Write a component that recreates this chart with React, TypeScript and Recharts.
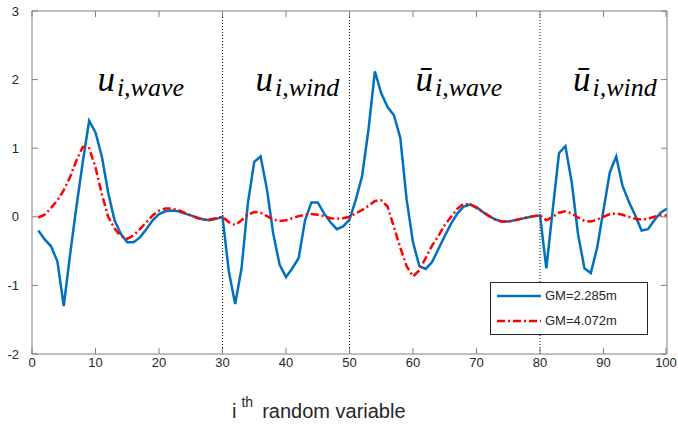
import React from "react";
import {
  LineChart,
  Line,
  XAxis,
  YAxis,
  ReferenceLine,
  ReferenceDot,
  Legend,
} from "recharts";

// random variable index
const idx = [
  1, 2, 3, 4, 5, 6, 7, 8, 9, 10, 11, 12, 13, 14, 15, 16, 17, 18, 19, 20,
  21, 22, 23, 24, 25, 26, 27, 28, 29, 30, 31, 32, 33, 34, 35, 36, 37, 38, 39, 40,
  41, 42, 43, 44, 45, 46, 47, 48, 49, 50, 51, 52, 53, 54, 55, 56, 57, 58, 59, 60,
  61, 62, 63, 64, 65, 66, 67, 68, 69, 70, 71, 72, 73, 74, 75, 76, 77, 78, 79, 80,
  81, 82, 83, 84, 85, 86, 87, 88, 89, 90, 91, 92, 93, 94, 95, 96, 97, 98, 99, 100,
];

// GM=2.285m
const gmLow = [
  -0.2, -0.33, -0.43, -0.65, -1.3, -0.55, 0.15, 0.8, 1.4, 1.23,
  0.88, 0.35, -0.05, -0.25, -0.37, -0.37, -0.3, -0.18, -0.05, 0.04,
  0.08, 0.09, 0.08, 0.05, 0.02, -0.01, -0.04, -0.05, -0.03, 0.0,
  -0.8, -1.27, -0.75, 0.2, 0.8, 0.88, 0.4, -0.25, -0.7, -0.88,
  -0.75, -0.6, -0.05, 0.21, 0.21, 0.05, -0.08, -0.18, -0.14, -0.04,
  0.25, 0.6, 1.28, 2.12, 1.8, 1.6, 1.48, 1.15, 0.25, -0.37,
  -0.72, -0.76, -0.66, -0.47, -0.28, -0.1, 0.05, 0.15, 0.18, 0.14,
  0.07, 0.01, -0.04, -0.07, -0.07, -0.05, -0.03, -0.01, 0.01, 0.02,
  -0.75, 0.1, 0.93, 1.03, 0.5, -0.26, -0.75, -0.82, -0.45, 0.1,
  0.65, 0.88, 0.45, 0.22, 0.02, -0.2, -0.18, -0.05, 0.06, 0.12,
];

// GM=4.072m
const gmHigh = [
  -0.01, 0.03, 0.13, 0.24, 0.39, 0.58, 0.82, 1.02, 1.0, 0.72,
  0.33, 0.0, -0.17, -0.28, -0.32, -0.27, -0.18, -0.08, 0.02, 0.09,
  0.12, 0.12, 0.1, 0.06, 0.02, -0.02, -0.04, -0.04, -0.02, 0.0,
  -0.08, -0.12, -0.05, 0.03, 0.07, 0.06, 0.01, -0.04, -0.06, -0.05,
  -0.02, 0.01, 0.03, 0.04, 0.03, 0.01, -0.02, -0.03, -0.02, 0.0,
  0.05, 0.1, 0.16, 0.23, 0.24, 0.15, -0.15, -0.45, -0.72, -0.87,
  -0.78, -0.6, -0.42, -0.28, -0.12, 0.0, 0.12, 0.19, 0.18, 0.13,
  0.07, 0.01, -0.04, -0.07, -0.07, -0.05, -0.03, -0.01, 0.01, 0.02,
  -0.05, 0.0, 0.06, 0.08, 0.05, -0.01, -0.06, -0.07, -0.04, 0.0,
  0.04, 0.05, 0.03, 0.0, -0.03, -0.04, -0.03, 0.0, 0.02, 0.02,
];

const xTicks = [0, 10, 20, 30, 40, 50, 60, 70, 80, 90, 100];
const yTicks = [-2, -1, 0, 1, 2, 3];
const dividers = [30, 50, 80];

const sections = [
  { x: 10.3, y: 1.83, bar: false, sub: "i,wave" },
  { x: 35.2, y: 1.83, bar: false, sub: "i,wind" },
  { x: 60.4, y: 1.83, bar: true, sub: "i,wave" },
  { x: 85.2, y: 1.83, bar: true, sub: "i,wind" },
];

const series = [
  { key: "low", name: "GM=2.285m", color: "#0072BD", dash: undefined },
  { key: "high", name: "GM=4.072m", color: "#FF0000", dash: "8 3 2 3" },
];

const data = idx.map((i, k) => ({ i, low: gmLow[k], high: gmHigh[k] }));

const AXIS = "#808080";
const TXT = "#262626";
const FONT = "'Liberation Sans', Arial, Helvetica, sans-serif";

const BottomTick = (p: any) => (
  <g>
    <line x1={p.x} y1={p.y} x2={p.x} y2={p.y - 6} stroke={AXIS} />
    <text x={p.x} y={p.y + 13} textAnchor="middle" fontSize={13} fill={TXT} fontFamily={FONT}>
      {p.payload.value}
    </text>
  </g>
);
const TopTick = (p: any) => (
  <line x1={p.x} y1={p.y} x2={p.x} y2={p.y + 6} stroke={AXIS} />
);
const LeftTick = (p: any) => (
  <g>
    <line x1={p.x} y1={p.y} x2={p.x + 6} y2={p.y} stroke={AXIS} />
    <text x={p.x - 13} y={p.y + 4.5} textAnchor="end" fontSize={13} fill={TXT} fontFamily={FONT}>
      {p.payload.value}
    </text>
  </g>
);
const RightTick = (p: any) => (
  <line x1={p.x} y1={p.y} x2={p.x - 6} y2={p.y} stroke={AXIS} />
);

const XTitle = (p: any) => {
  const vb = p.viewBox;
  return (
    <text x={vb.x + 200} y={vb.y + 64} fontSize={20} fill={TXT} fontFamily={FONT}>
      <tspan>i</tspan>
      <tspan dx={5} dy={-11} fontSize={14}>th</tspan>
      <tspan dx={9} dy={11}>random variable</tspan>
    </text>
  );
};

const SectionLabel = (s: (typeof sections)[number]) => (p: any) => (
  <text
    x={p.cx}
    y={p.cy}
    fontFamily="'Liberation Serif', 'Times New Roman', serif"
    fontStyle="italic"
    fill="#000"
  >
    <tspan fontSize={35}>{s.bar ? "\u016B" : "u"}</tspan>
    <tspan fontSize={26} dx={2} dy={5}>{s.sub}</tspan>
  </text>
);

const LegendBox = () => (
  <div
    style={{
      width: 158,
      height: 53,
      boxSizing: "border-box",
      border: `1px solid ${TXT}`,
      background: "#fff",
    }}
  >
    {series.map((s) => (
      <div key={s.key} style={{ display: "flex", alignItems: "center", height: 25, textAlign: "left" }}>
        <svg width={54} height={10}>
          <line
            x1={6}
            y1={5}
            x2={50}
            y2={5}
            stroke={s.color}
            strokeWidth={2.5}
            strokeDasharray={s.dash}
          />
        </svg>
        <span style={{ fontFamily: FONT, fontSize: 13, color: TXT }}>{s.name}</span>
      </div>
    ))}
  </div>
);

export default function App() {
  return (
    <div style={{ position: "absolute", left: 0, top: 0, background: "#fff" }}>
      <LineChart
        width={678}
        height={424}
        data={data}
        margin={{ top: 10, right: 10, left: 0, bottom: 0 }}
      >
        <XAxis
          dataKey="i"
          type="number"
          domain={[0, 100]}
          ticks={xTicks}
          height={70}
          tickSize={0}
          tickMargin={0}
          tick={BottomTick}
          axisLine={{ stroke: AXIS }}
          tickLine={false}
          label={{ content: XTitle }}
        />
        <XAxis
          xAxisId="top"
          orientation="top"
          dataKey="i"
          type="number"
          domain={[0, 100]}
          ticks={xTicks}
          height={1}
          tickSize={0}
          tickMargin={0}
          tick={TopTick}
          axisLine={{ stroke: AXIS }}
          tickLine={false}
        />
        <YAxis
          type="number"
          domain={[-2, 3]}
          ticks={yTicks}
          width={32}
          tickSize={0}
          tickMargin={0}
          tick={LeftTick}
          axisLine={{ stroke: AXIS }}
          tickLine={false}
        />
        <YAxis
          yAxisId="right"
          orientation="right"
          type="number"
          domain={[-2, 3]}
          ticks={yTicks}
          width={1}
          tickSize={0}
          tickMargin={0}
          tick={RightTick}
          axisLine={{ stroke: AXIS }}
          tickLine={false}
        />
        {dividers.map((d) => (
          <ReferenceLine key={d} x={d} stroke="#000" strokeDasharray="1 2" />
        ))}
        {series.map((s) => (
          <Line
            key={s.key}
            type="linear"
            dataKey={s.key}
            name={s.name}
            stroke={s.color}
            strokeWidth={2.5}
            strokeDasharray={s.dash}
            dot={false}
            activeDot={false}
            isAnimationActive={false}
          />
        ))}
        {/* invisible series so the top / right frame axes get drawn */}
        <Line
          xAxisId="top"
          yAxisId="right"
          dataKey="low"
          stroke="none"
          dot={false}
          activeDot={false}
          legendType="none"
          isAnimationActive={false}
        />
        {sections.map((s, k) => (
          <ReferenceDot key={k} x={s.x} y={s.y} r={0} shape={SectionLabel(s)} />
        ))}
        <Legend
          content={LegendBox}
          layout="vertical"
          align="center"
          verticalAlign="middle"
          wrapperStyle={{ position: "absolute", left: 490, top: 282, width: 158, height: 53 }}
        />
      </LineChart>
    </div>
  );
}
